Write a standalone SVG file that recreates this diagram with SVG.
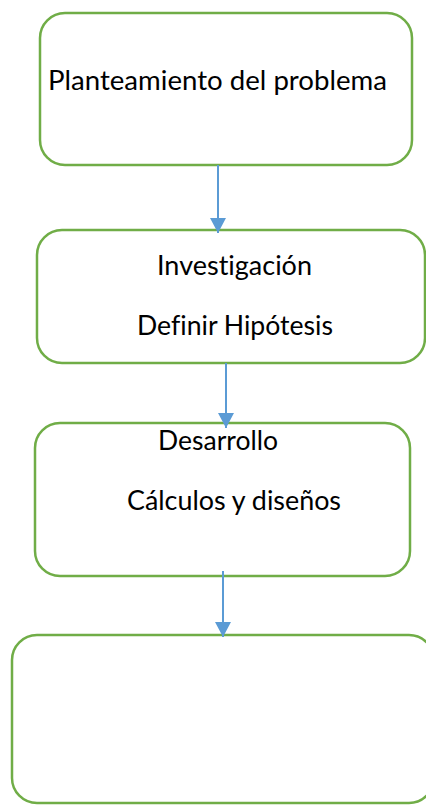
<svg xmlns="http://www.w3.org/2000/svg" width="426" height="805" viewBox="0 0 426 805">
<style>
.box{fill:#fff;stroke:#70AD47;stroke-width:2.5}
.lbl{font-family:Lato,"Open Sans","Liberation Sans",sans-serif;font-size:26px;fill:#000;font-variant-ligatures:none}
.conn{stroke:#5B9BD5;stroke-width:2;fill:none}
</style>
<defs>
<marker id="ah" markerUnits="userSpaceOnUse" markerWidth="16" markerHeight="16" viewBox="0 0 16 16" refX="15" refY="8" orient="auto">
<path d="M0,0 L15,8 L0,16 Z" fill="#5B9BD5"/>
</marker>
</defs>
<rect width="426" height="805" fill="#fff"/>
<g id="n1">
<rect class="box" x="40" y="13" width="372" height="152" rx="25"/>
<text class="lbl" x="48" y="90" textLength="339" lengthAdjust="spacingAndGlyphs">Planteamiento del problema</text>
</g>
<g id="n2">
<rect class="box" x="37" y="230" width="388" height="133" rx="25"/>
<text class="lbl" x="157" y="275" textLength="155" lengthAdjust="spacingAndGlyphs">Investigación</text>
<text class="lbl" x="137" y="335" textLength="196" lengthAdjust="spacingAndGlyphs">Definir Hipótesis</text>
</g>
<g id="n3">
<rect class="box" x="35" y="423" width="375" height="153" rx="25"/>
<text class="lbl" x="158" y="450" textLength="120" lengthAdjust="spacingAndGlyphs">Desarrollo</text>
<text class="lbl" x="127" y="510" textLength="214" lengthAdjust="spacingAndGlyphs">Cálculos y diseños</text>
</g>
<g id="n4">
<rect class="box" x="12" y="635" width="422" height="168" rx="25"/>
</g>
<g id="connectors">
<line class="conn" x1="218" y1="165" x2="218" y2="233" marker-end="url(#ah)"/>
<line class="conn" x1="226" y1="363" x2="226" y2="428" marker-end="url(#ah)"/>
<line class="conn" x1="223" y1="571" x2="223" y2="637" marker-end="url(#ah)"/>
</g>
</svg>
